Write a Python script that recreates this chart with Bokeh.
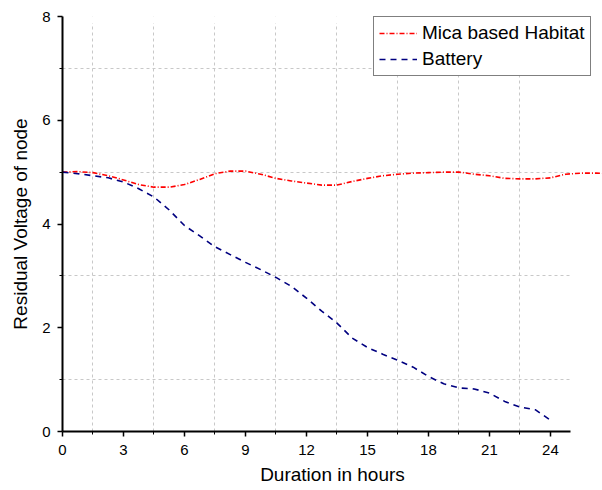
from bokeh.plotting import figure
from bokeh.models import Legend, LegendItem, BoxAnnotation, FixedTicker, Range1d
from bokeh.embed import file_html
from bokeh.resources import INLINE

# Data
hours_mica = [0, 0.75, 1.5, 2.25, 3, 3.75, 4.5, 5.25, 6, 6.75, 7.5, 8.25, 9, 9.75,
              10.5, 11.25, 12, 12.75, 13.5, 14.25, 15, 15.75, 16.5, 17.25, 18, 18.75,
              19.5, 20.25, 21, 21.75, 22.5, 23.25, 24, 24.75, 25.5, 26.25, 27]
voltage_mica = [5.00, 5.01, 4.99, 4.93, 4.85, 4.76, 4.71, 4.71, 4.76, 4.86, 4.97, 5.02,
                5.02, 4.96, 4.88, 4.83, 4.79, 4.75, 4.75, 4.82, 4.88, 4.93, 4.96, 4.98,
                4.99, 5.00, 5.00, 4.96, 4.93, 4.88, 4.87, 4.87, 4.89, 4.96, 4.98, 4.98, 4.97]

hours_battery = [0, 0.75, 1.5, 2.25, 3, 3.75, 4.5, 5.25, 6, 6.75, 7.5, 8.25, 9, 9.75,
                 10.5, 11.25, 12, 12.75, 13.5, 14.25, 15, 15.75, 16.5, 17.25, 18, 18.75,
                 19.5, 20.25, 21, 21.75, 22.5, 23.25, 24]
voltage_battery = [5.00, 4.97, 4.93, 4.89, 4.81, 4.68, 4.52, 4.27, 3.97, 3.77, 3.56, 3.41,
                   3.26, 3.12, 2.97, 2.80, 2.57, 2.32, 2.09, 1.80, 1.62, 1.49, 1.37, 1.24,
                   1.06, 0.92, 0.84, 0.82, 0.74, 0.58, 0.47, 0.42, 0.22]

x_ticks = [0, 3, 6, 9, 12, 15, 18, 21, 24]
x_minor = [1.5, 4.5, 7.5, 10.5, 13.5, 16.5, 19.5, 22.5]
y_ticks = [0, 2, 4, 6, 8]
y_minor = [1, 3, 5, 7]

FONT = "Liberation Sans"

p = figure(width=602, height=490, output_backend="svg", toolbar_location=None,
           x_range=Range1d(0, 26.56), y_range=Range1d(0, 8),
           min_border_left=62, min_border_right=0, min_border_top=16, min_border_bottom=59)
p.outline_line_color = None
p.background_fill_color = "white"

# axes
p.xaxis.ticker = FixedTicker(ticks=x_ticks, minor_ticks=x_minor)
p.yaxis.ticker = FixedTicker(ticks=y_ticks, minor_ticks=y_minor)
p.xaxis.bounds = (0, 25)
for ax in (p.xaxis[0], p.yaxis[0]):
    ax.axis_line_color = "black"
    ax.axis_line_width = 2
    ax.major_tick_line_color = "black"
    ax.major_tick_line_width = 1.5
    ax.minor_tick_line_color = "black"
    ax.minor_tick_line_width = 1
    ax.major_tick_out = 5
    ax.major_tick_in = 0
    ax.minor_tick_out = 3
    ax.minor_tick_in = 0
    ax.major_label_text_font = FONT
    ax.major_label_text_font_size = "15px"
    ax.major_label_text_color = "black"
    ax.axis_label_text_font = FONT
    ax.axis_label_text_font_size = "19px"
    ax.axis_label_text_font_style = "normal"
    ax.axis_label_text_color = "black"

p.xaxis.axis_label = "Duration in hours"
p.yaxis.axis_label = "Residual Voltage of node"
p.xaxis.major_label_standoff = 8
p.xaxis.axis_label_standoff = 6
p.yaxis.major_label_standoff = 7
p.yaxis.axis_label_standoff = 8

# grids: only at minor ticks
for g in (p.xgrid[0], p.ygrid[0]):
    g.grid_line_color = None
    g.minor_grid_line_color = "#c8c8c8"
    g.minor_grid_line_dash = "3 3"
    g.minor_grid_line_width = 1
p.xgrid.ticker = FixedTicker(ticks=x_ticks, minor_ticks=x_minor)
p.ygrid.ticker = FixedTicker(ticks=y_ticks, minor_ticks=y_minor)

# mask grid lines outside the reference's grid area
p.add_layout(BoxAnnotation(left=25, fill_color="white", fill_alpha=1, line_color=None, level="underlay"))
p.add_layout(BoxAnnotation(bottom=7.87, fill_color="white", fill_alpha=1, line_color=None, level="underlay"))

r1 = p.line(hours_mica, voltage_mica, line_color="#ff0000", line_width=1.6, line_dash="5 2 1 2")
r2 = p.line(hours_battery, voltage_battery, line_color="#000080", line_width=1.6, line_dash="6 5")

legend = Legend(items=[LegendItem(label="Mica based Habitat", renderers=[r1]),
                       LegendItem(label="Battery", renderers=[r2])],
                location=(311, 355))
legend.label_text_font = FONT
legend.label_text_font_size = "19px"
legend.label_text_color = "black"
legend.glyph_width = 38
legend.glyph_height = 20
legend.label_height = 20
legend.label_standoff = 5
legend.padding = 5
legend.spacing = 4
legend.margin = 0
legend.border_line_color = "black"
legend.border_line_width = 1
legend.background_fill_alpha = 1
p.add_layout(legend, "center")

open("out.html", "w").write(file_html(p, INLINE))
